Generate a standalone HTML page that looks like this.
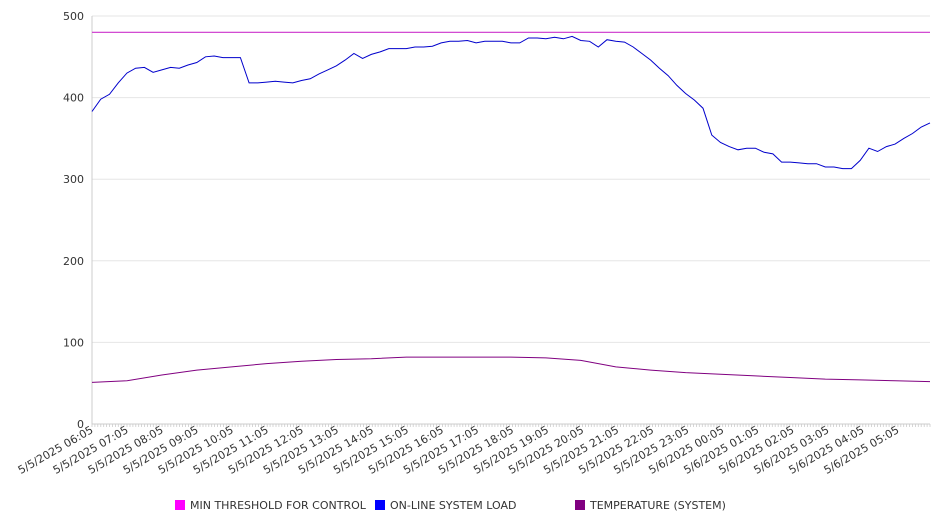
<!DOCTYPE html>
<html><head><meta charset="utf-8"><style>
body{margin:0;background:#fff;font-family:"DejaVu Sans","Liberation Sans",sans-serif;}
svg text{font-family:"DejaVu Sans","Liberation Sans",sans-serif;fill:#333;}
</style></head><body>
<svg id="chart" width="946" height="526">
<g id="grid"></g>
<g id="axes"></g>
<g id="series"></g>
<g id="legend">
 <rect x="175" y="500" width="10" height="10" fill="#ff00ff"/>
 <text x="190" y="509" font-size="11">MIN THRESHOLD FOR CONTROL</text>
 <rect x="375" y="500" width="10" height="10" fill="#0000ff"/>
 <text x="390" y="509" font-size="11">ON-LINE SYSTEM LOAD</text>
 <rect x="575" y="500" width="10" height="10" fill="#800080"/>
 <text x="590" y="509" font-size="11">TEMPERATURE (SYSTEM)</text>
</g>
</svg>
<script>
const hourLabels=["5/5/2025 06:05","5/5/2025 07:05","5/5/2025 08:05","5/5/2025 09:05","5/5/2025 10:05","5/5/2025 11:05","5/5/2025 12:05","5/5/2025 13:05","5/5/2025 14:05","5/5/2025 15:05","5/5/2025 16:05","5/5/2025 17:05","5/5/2025 18:05","5/5/2025 19:05","5/5/2025 20:05","5/5/2025 21:05","5/5/2025 22:05","5/5/2025 23:05","5/6/2025 00:05","5/6/2025 01:05","5/6/2025 02:05","5/6/2025 03:05","5/6/2025 04:05","5/6/2025 05:05"];
const yTicks=[0,100,200,300,400,500];
// load sampled every 15 minutes
const loadValues=[383,398,404,418,430,436,437,431,434,437,436,440,443,450,451,449,449,449,418,418,419,420,419,418,421,423,429,434,439,446,454,448,453,456,460,460,460,462,462,463,467,469,469,470,467,469,469,469,467,
467,473,473,472,474,472,475,470,469,462,471,469,468,462,454,446,436,427,415,405,397,387,354,345,340,336,338,338,333,331,321,321,320,319,319,315,315,313,313,323,338,334,340,343,350,356,364,369];
// temperature sampled hourly
const tempValues=[51,53,60,66,70,74,77,79,80,82,82,82,82,81,78,70,66,63,61,59,57,55,54,53,52];
const thresholdValue=480;
const X0=92,X1=930,Y0=424,Y1=16,KMAX=96;
const NS="http://www.w3.org/2000/svg";
function xq(k){return X0+(X1-X0)*k/KMAX;}
function y(v){return Y0-(Y0-Y1)*v/500;}
function mk(tag,attrs,parent){const e=document.createElementNS(NS,tag);for(const a in attrs)e.setAttribute(a,attrs[a]);parent.appendChild(e);return e;}
const grid=document.getElementById('grid'),axes=document.getElementById('axes'),series=document.getElementById('series');
yTicks.forEach(t=>{
 if(t>0){const g=mk('line',{x1:X0,x2:X1,y1:y(t),y2:y(t),stroke:'#e6e6e6','stroke-width':1},grid);
 
 }
 const tl=mk('text',{x:84,y:y(t)+4,'text-anchor':'end','font-size':11},axes);
 tl.textContent=t;
 
 
});
const ya=mk('line',{x1:X0,x2:X0,y1:Y1,y2:Y0,stroke:'#ccc'},axes);


const xa=mk('line',{x1:X0,x2:X1,y1:Y0,y2:Y0,stroke:'#ccc'},axes);


let d='';for(let i=0;i<=287;i++){const xx=X0+(X1-X0)*i/287;d+='M'+xx.toFixed(1)+' '+Y0+'v3';}
const mt=mk('path',{d:d,stroke:'#ccc','stroke-width':0.8},axes);


hourLabels.forEach((l,i)=>{
 const xx=X0+(X1-X0)*(i*12)/287+2;
 const t=mk('text',{x:xx,y:Y0+8,'text-anchor':'end','font-size':11,transform:'rotate(-30 '+xx+' '+(Y0+8)+')'},axes);
 t.textContent=l;
 
 
});
const th=mk('line',{x1:X0,x2:X1,y1:y(thresholdValue),y2:y(thresholdValue),stroke:'#cc33cc','stroke-width':1.2},series);


const lp=mk('polyline',{points:loadValues.map((v,k)=>xq(k).toFixed(1)+','+y(v).toFixed(1)).join(' '),fill:'none',stroke:'#0000cc','stroke-width':1},series);


const tp=mk('polyline',{points:tempValues.map((v,i)=>xq(i*4).toFixed(1)+','+y(v).toFixed(1)).join(' '),fill:'none',stroke:'#800080','stroke-width':1},series);


</script>
</body></html>
